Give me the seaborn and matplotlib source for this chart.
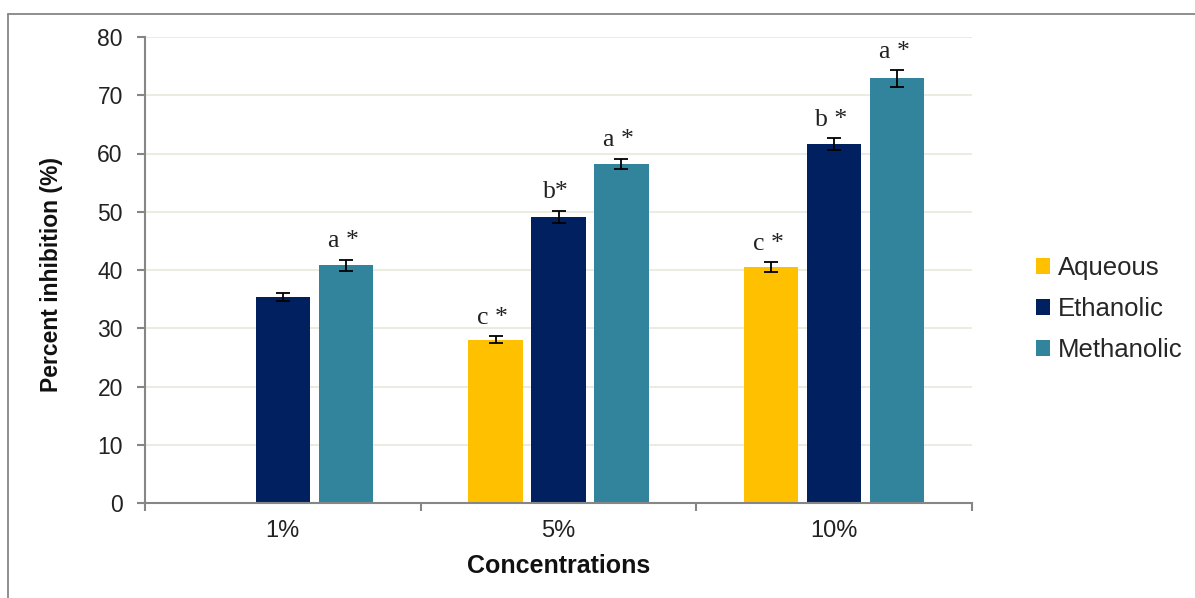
import numpy as np
import pandas as pd
import seaborn as sns
import matplotlib.pyplot as plt
from matplotlib.patches import Patch
from matplotlib.lines import Line2D

# Percent inhibition by extract and concentration
concentrations = ["1%", "5%", "10%"]
extracts = ["Aqueous", "Ethanolic", "Methanolic"]
aqueous = [np.nan, 28.0, 40.5]
ethanolic = [35.3, 49.1, 61.6]
methanolic = [40.8, 58.2, 72.9]
aqueous_err = [np.nan, 0.6, 0.8]
ethanolic_err = [0.7, 1.1, 1.0]
methanolic_err = [1.0, 0.9, 1.4]
aqueous_sig = [None, "c *", "c *"]
ethanolic_sig = [None, "b*", "b *"]
methanolic_sig = ["a *", "a *", "a *"]

colors = ["#FFC000", "#002060", "#31849B"]
axis_grey = "#868686"

values = {"Aqueous": aqueous, "Ethanolic": ethanolic, "Methanolic": methanolic}
errors = {"Aqueous": aqueous_err, "Ethanolic": ethanolic_err, "Methanolic": methanolic_err}
labels = {"Aqueous": aqueous_sig, "Ethanolic": ethanolic_sig, "Methanolic": methanolic_sig}

rows = []
for ext in extracts:
    for i, conc in enumerate(concentrations):
        rows.append({"Concentration": conc, "Extract": ext,
                     "Inhibition": values[ext][i], "Error": errors[ext][i],
                     "Label": labels[ext][i]})
df = pd.DataFrame(rows)

sns.set_theme(style="white")
plt.rcParams["font.family"] = ["Liberation Sans", "DejaVu Sans"]

fig = plt.figure(figsize=(11.95, 5.98), dpi=100)
ax = fig.add_axes([145 / 1195, 1 - 503 / 598, 827 / 1195, 466 / 598])

sns.barplot(data=df.dropna(subset=["Inhibition"]), x="Concentration", y="Inhibition",
            hue="Extract", order=concentrations, hue_order=extracts,
            palette=colors, saturation=1, width=0.685, gap=0.14, errorbar=None,
            linewidth=0, ax=ax, legend=False, zorder=2)

# error bars and significance letters on each bar
for ext, container in zip(extracts, ax.containers):
    for bar in container:
        h = bar.get_height()
        if not np.isfinite(h):
            continue
        xc = bar.get_x() + bar.get_width() / 2
        idx = int(round(xc))
        err = errors[ext][idx]
        ax.errorbar(xc, h, yerr=err, fmt="none", ecolor="black",
                    elinewidth=1.3, capsize=5, capthick=1.3, zorder=3)
        lab = labels[ext][idx]
        if lab:
            ax.annotate(lab, (xc, h + err), xytext=(-2, 9),
                        textcoords="offset points", ha="center", va="baseline",
                        fontsize=18.5, family="Liberation Serif", color="#222222")

ax.set_xlim(-0.5, 2.5)
ax.set_ylim(0, 80)
ax.set_yticks(range(0, 81, 10))
ax.yaxis.grid(True, color="#E9E7DA", linewidth=1.2, zorder=0)
ax.set_axisbelow(True)

for s in ["top", "right"]:
    ax.spines[s].set_visible(False)
for s in ["left", "bottom"]:
    ax.spines[s].set_color(axis_grey)
    ax.spines[s].set_linewidth(1.5)

ax.tick_params(axis="y", which="major", direction="out", length=6, width=1.5,
               color=axis_grey, labelsize=16.5, pad=10, labelcolor="#222222", left=True)
ax.set_xticks([-0.5, 0.5, 1.5, 2.5], minor=True)
ax.tick_params(axis="x", which="major", length=0, labelsize=17, pad=12,
               labelcolor="#222222")
ax.tick_params(axis="x", which="minor", direction="out", length=6, width=1.5,
               color=axis_grey, bottom=True)

ax.set_xlabel("Concentrations", fontsize=18, fontweight="bold", labelpad=9,
              color="#111111")
ax.set_ylabel("Percent inhibition (%)", fontsize=16.5, fontweight="bold",
              color="#111111")
ax.yaxis.set_label_coords(-0.099, 0.49)

handles = [Patch(facecolor=c, edgecolor="none") for c in colors]
fig.legend(handles, extracts, loc="center left", bbox_to_anchor=(1036 / 1195, 1 - 309 / 598),
           frameon=False, fontsize=18.5, handlelength=0.55, handleheight=0.55,
           handletextpad=0.3, labelspacing=0.66, borderpad=0, borderaxespad=0)

# chart-area frame
fig.add_artist(Line2D([8 / 1195, 1.0], [1 - 14 / 598, 1 - 14 / 598],
                      transform=fig.transFigure, color=axis_grey, linewidth=1.3))
fig.add_artist(Line2D([8 / 1195, 8 / 1195], [0.0, 1 - 14 / 598],
                      transform=fig.transFigure, color=axis_grey, linewidth=1.3))

fig.savefig("out.png", dpi=100)
